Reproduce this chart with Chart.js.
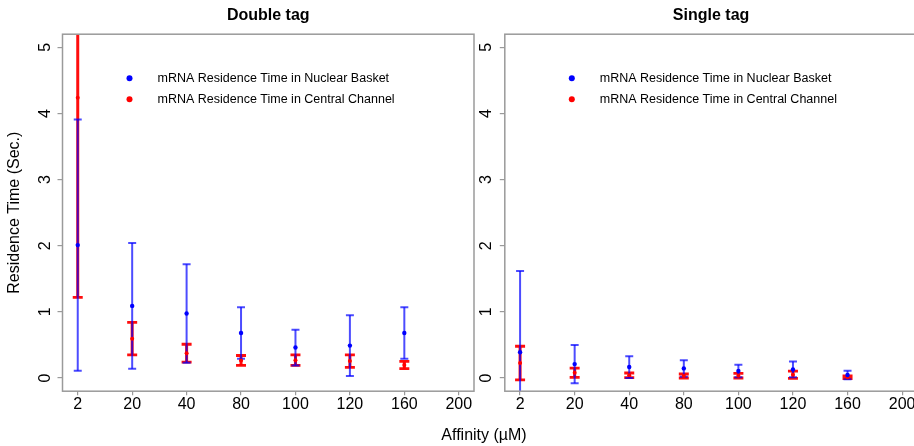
<!DOCTYPE html>
<html>
<head>
<meta charset="utf-8">
<script src="https://cdn.jsdelivr.net/npm/chart.js@4.4.1/dist/chart.umd.min.js"></script>
<style>
  html, body { margin: 0; padding: 0; background: #fff; overflow: hidden; }
  body { width: 914px; height: 446px; position: relative; }
  canvas { position: absolute; top: 0; }
  #cLeft { left: 0; }
  #cRight { left: 478px; }
  #xTitle {
    position: absolute; left: 0; width: 968px; top: 426px;
    text-align: center; line-height: 18px;
    font: 16px "Liberation Sans", Arial, sans-serif; color: #000;
  }
</style>
</head>
<body>
<canvas id="cLeft" width="478" height="446"></canvas>
<canvas id="cRight" width="460" height="446"></canvas>
<div id="xTitle">Affinity (µM)</div>
<script>
// categories (x axis, equally spaced)
const affinity = ["2", "20", "40", "80", "100", "120", "160", "200"];
const yTicks = [0, 1, 2, 3, 4, 5];

// Double tag: mean +/- error
const basketMeanD = [2.01, 1.09, 0.975, 0.68, 0.46, 0.49, 0.68];
const basketErrD = [1.90, 0.95, 0.745, 0.39, 0.27, 0.46, 0.39];
const channelMeanD = [4.24, 0.595, 0.375, 0.265, 0.27, 0.255, 0.195];
const channelErrD = [3.02, 0.245, 0.135, 0.075, 0.08, 0.095, 0.055];

// Single tag
const basketMeanS = [0.39, 0.21, 0.165, 0.145, 0.105, 0.13, 0.045];
const basketErrS = [1.23, 0.29, 0.165, 0.125, 0.095, 0.12, 0.065];
const channelMeanS = [0.225, 0.08, 0.04, 0.03, 0.035, 0.05, 0.01];
const channelErrS = [0.255, 0.07, 0.035, 0.03, 0.035, 0.055, 0.02];

const legendItems = [
  { text: "mRNA Residence Time in Nuclear Basket", color: "#0000ff" },
  { text: "mRNA Residence Time in Central Channel", color: "#ff0000" },
];

const FONT = '"Liberation Sans", Arial, sans-serif';
const AXIS_GRAY = "#9a9a9a";

function toPoints(arr) {
  return arr.map((v, i) => ({ x: i + 1, y: v }));
}

// error bars, drawn under the points (red first, blue on top)
const errorBars = {
  id: "errorBars",
  beforeDatasetsDraw(chart) {
    const { ctx, chartArea: a, scales } = chart;
    ctx.save();
    ctx.beginPath();
    ctx.rect(a.left, a.top, a.right - a.left, a.bottom - a.top);
    ctx.clip();
    for (let d = chart.data.datasets.length - 1; d >= 0; d--) {
      const ds = chart.data.datasets[d];
      ctx.strokeStyle = ds.barColor;
      ds.data.forEach((p, i) => {
        const e = ds.err[i];
        const x = scales.x.getPixelForValue(p.x);
        const yHi = scales.y.getPixelForValue(p.y + e);
        const yLo = scales.y.getPixelForValue(p.y - e);
        ctx.lineWidth = ds.barWidth;
        ctx.beginPath();
        ctx.moveTo(x, yHi);
        ctx.lineTo(x, yLo);
        ctx.stroke();
        ctx.lineWidth = ds.capWidth;
        ctx.beginPath();
        ctx.moveTo(x - ds.capHalf, yHi);
        ctx.lineTo(x + ds.capHalf, yHi);
        ctx.moveTo(x - ds.capHalf, yLo);
        ctx.lineTo(x + ds.capHalf, yLo);
        ctx.stroke();
      });
    }
    ctx.restore();
  },
};

// full box around the plot + legend inside it
const boxAndLegend = {
  id: "boxAndLegend",
  afterDraw(chart) {
    const { ctx, chartArea: a } = chart;
    ctx.save();
    ctx.strokeStyle = AXIS_GRAY;
    ctx.lineWidth = 1.5;
    ctx.strokeRect(a.left, a.top, a.right - a.left, a.bottom - a.top);

    ctx.font = "12.5px " + FONT;
    ctx.textBaseline = "middle";
    ctx.textAlign = "left";
    legendItems.forEach((it, i) => {
      const cx = a.left + 67;
      const cy = a.top + 44 + i * 21;
      ctx.fillStyle = it.color;
      ctx.beginPath();
      ctx.arc(cx, cy, 3, 0, Math.PI * 2);
      ctx.fill();
      ctx.fillStyle = "#000";
      ctx.fillText(it.text, cx + 28, cy);
    });
    ctx.restore();
  },
};

function makeChart(id, title, bMean, bErr, cMean, cErr, yWidth, padRight, labelPad, showYTitle) {
  return new Chart(document.getElementById(id), {
    type: "scatter",
    data: {
      datasets: [
        {
          label: legendItems[0].text,
          data: toPoints(bMean),
          err: bErr,
          barColor: "rgba(0,0,255,0.7)",
          barWidth: 2,
          capWidth: 2,
          capHalf: 4,
          pointRadius: 2.2,
          pointBackgroundColor: "#0000ff",
          pointBorderWidth: 0,
        },
        {
          label: legendItems[1].text,
          data: toPoints(cMean),
          err: cErr,
          barColor: "rgba(255,0,0,0.95)",
          barWidth: 3,
          capWidth: 2.8,
          capHalf: 5,
          pointRadius: 2,
          pointBackgroundColor: "#ff0000",
          pointBorderWidth: 0,
        },
      ],
    },
    options: {
      responsive: false,
      devicePixelRatio: 1,
      animation: false,
      events: [],
      layout: { padding: { left: 0, right: padRight, top: 0, bottom: 0 } },
      plugins: {
        legend: { display: false },
        tooltip: { enabled: false },
        title: {
          display: true,
          text: title,
          fullSize: false,
          color: "#000",
          font: { family: FONT, size: 16, weight: "bold", lineHeight: 1.2 },
          padding: { top: 6, bottom: 9 },
        },
      },
      scales: {
        x: {
          type: "linear",
          min: 0.72,
          max: 8.28,
          afterBuildTicks: (s) => { s.ticks = affinity.map((_, i) => ({ value: i + 1 })); },
          afterFit: (s) => { s.height = 54.8; },
          ticks: {
            color: "#000",
            font: { family: FONT, size: 16 },
            padding: 0,
            maxRotation: 0,
            callback: (v) => affinity[v - 1],
          },
          grid: { drawOnChartArea: false, drawTicks: true, tickLength: 4, color: AXIS_GRAY, lineWidth: 1.2 },
          border: { display: false },
        },
        y: {
          min: -0.2,
          max: 5.2,
          afterBuildTicks: (s) => { s.ticks = yTicks.map((v) => ({ value: v })); },
          afterFit: (s) => { s.width = yWidth; },
          ticks: {
            color: "#000",
            font: { family: FONT, size: 16 },
            padding: labelPad,
            minRotation: 90,
            maxRotation: 90,
            crossAlign: "center",
          },
          grid: { drawOnChartArea: false, drawTicks: true, tickLength: 5, color: AXIS_GRAY, lineWidth: 1.2 },
          border: { display: false },
          title: {
            display: showYTitle,
            text: "Residence Time (Sec.)",
            color: "#000",
            font: { family: FONT, size: 16, lineHeight: 1.2 },
            padding: { top: 4.5, bottom: 0 },
          },
        },
      },
    },
    plugins: [errorBars, boxAndLegend],
  });
}

makeChart("cLeft", "Double tag", basketMeanD, basketErrD, channelMeanD, channelErrD, 62.5, 2.9, 7.5, true);
makeChart("cRight", "Single tag", basketMeanS, basketErrS, channelMeanS, channelErrS, 26.8, 20.6, 9, false);
</script>
</body>
</html>
